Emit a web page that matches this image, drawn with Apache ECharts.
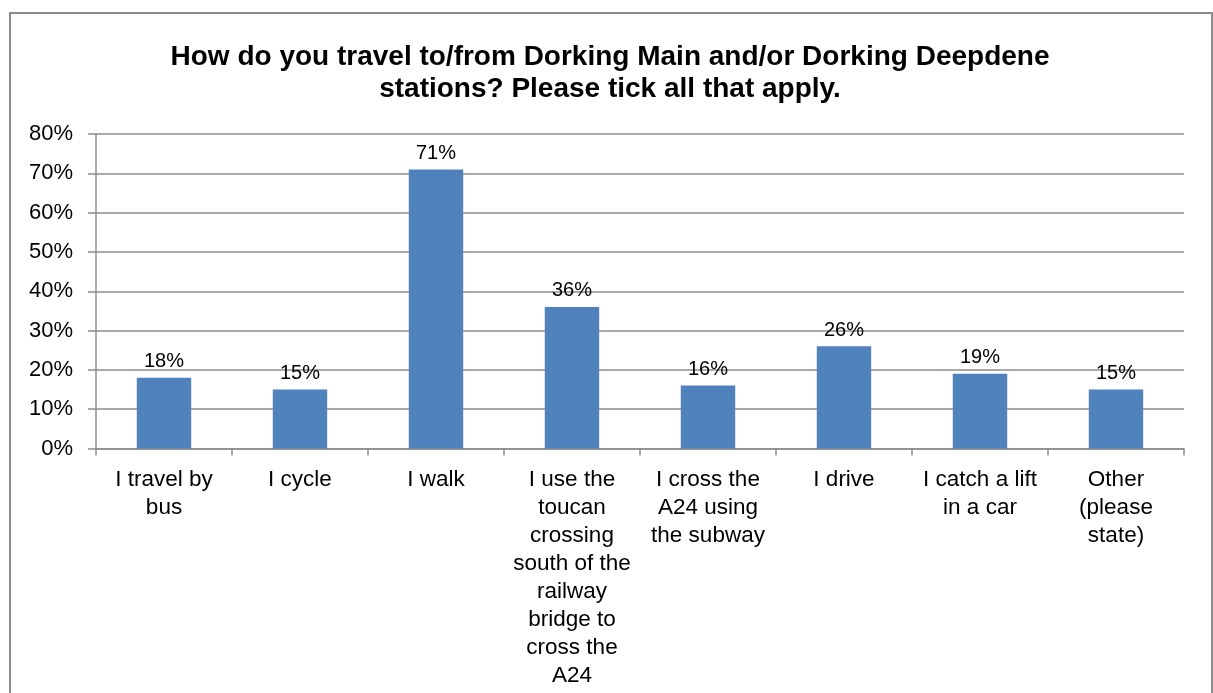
<!DOCTYPE html>
<html>
<head>
<meta charset="utf-8">
<script src="https://cdn.jsdelivr.net/npm/echarts@6/dist/echarts.min.js"></script>
<style>
  html, body { margin: 0; padding: 0; background: #fff; }
  #chart { width: 1213px; height: 693px; }
</style>
</head>
<body>
<div id="chart"></div>
<script>
// Travel modes to/from the stations (multiple answers allowed)
const categories = [
  'I travel by\nbus',
  'I cycle',
  'I walk',
  'I use the\ntoucan\ncrossing\nsouth of the\nrailway\nbridge to\ncross the\nA24',
  'I cross the\nA24 using\nthe subway',
  'I drive',
  'I catch a lift\nin a car',
  'Other\n(please\nstate)'
];
const shares = [18, 15, 71, 36, 16, 26, 19, 15];
const titleText = 'How do you travel to/from Dorking Main and/or Dorking Deepdene\nstations? Please tick all that apply.';

const FONT = '"Liberation Sans", Arial, sans-serif';
const GRID_GRAY = '#8c8c8c';

const chart = echarts.init(document.getElementById('chart'), null, { renderer: 'canvas' });
chart.setOption({
  animation: false,
  backgroundColor: '#ffffff',
  title: {
    text: titleText,
    left: 605,
    top: 36,
    textAlign: 'center',
    textStyle: {
      fontFamily: FONT,
      fontSize: 28,
      fontWeight: 'bold',
      color: '#000',
      lineHeight: 32
    }
  },
  graphic: [{
    type: 'rect',
    shape: { x: 10, y: 13, width: 1202, height: 700 },
    style: { fill: 'none', stroke: '#8c8c8c', lineWidth: 2 },
    silent: true
  }],
  grid: { left: 96, right: 29, top: 134, bottom: 244.5, containLabel: false },
  xAxis: {
    type: 'category',
    data: categories,
    axisLine: { lineStyle: { color: GRID_GRAY, width: 1.5 } },
    axisTick: { show: true, alignWithLabel: false, length: 7, lineStyle: { color: GRID_GRAY, width: 1.5 } },
    axisLabel: {
      interval: 0,
      margin: 17,
      fontFamily: FONT,
      fontSize: 22.5,
      lineHeight: 28,
      color: '#000',
      align: 'center'
    }
  },
  yAxis: {
    type: 'value',
    min: 0,
    max: 80,
    interval: 10,
    axisLine: { show: true, lineStyle: { color: GRID_GRAY, width: 1.5 } },
    axisTick: { show: true, length: 8, lineStyle: { color: GRID_GRAY, width: 1.5 } },
    splitLine: { show: true, lineStyle: { color: GRID_GRAY, width: 1.5 } },
    axisLabel: {
      formatter: '{value}%',
      margin: 23,
      fontFamily: FONT,
      fontSize: 22,
      color: '#000'
    }
  },
  series: [{
    type: 'bar',
    data: shares,
    barWidth: '40%',
    itemStyle: { color: '#4F81BD' },
    label: {
      show: true,
      position: 'top',
      distance: 6,
      formatter: '{c}%',
      fontFamily: FONT,
      fontSize: 20,
      color: '#000'
    }
  }]
});
</script>
</body>
</html>
